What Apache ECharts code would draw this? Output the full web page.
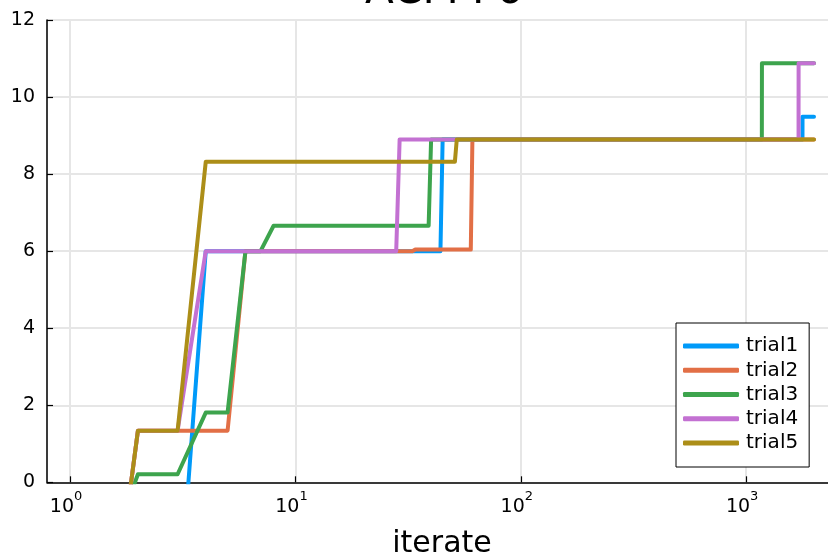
<!DOCTYPE html>
<html>
<head>
<meta charset="utf-8">
<script src="https://cdn.jsdelivr.net/npm/echarts@6/dist/echarts.min.js"></script>
<style>
html,body{margin:0;padding:0;background:#fff;overflow:hidden;}
#chart{width:828px;height:559px;}
</style>
</head>
<body>
<div id="chart"></div>
<script>
// ---- data ----
var titleText = 'ACM F6';
var xAxisName = 'iterate';
var seriesNames = ['trial1', 'trial2', 'trial3', 'trial4', 'trial5'];
var seriesColors = ['#009AF9', '#E26F46', '#3DA44D', '#C371D2', '#AC8E18'];

var trial1Iter = [1, 2, 3, 4, 44, 45, 1778, 1779, 2000];
var trial1Val  = [-10, -6, -3.74, 6, 6, 8.9, 8.9, 9.49, 9.49];

var trial2Iter = [1, 2, 5, 6, 33, 34, 60, 61, 2000];
var trial2Val  = [-12, 1.34, 1.34, 6, 6, 6.04, 6.04, 8.9, 8.9];

var trial3Iter = [1, 2, 3, 4, 5, 6, 7, 8, 39, 40, 1174, 1175, 2000];
var trial3Val  = [-4.6, 0.21, 0.21, 1.81, 1.81, 6, 6, 6.66, 6.66, 8.9, 8.9, 10.88, 10.88];

var trial4Iter = [1, 2, 3, 4, 28, 29, 1708, 1709, 2000];
var trial4Val  = [-12, 1.34, 1.34, 6, 6, 8.9, 8.9, 10.88, 10.88];

var trial5Iter = [1, 2, 3, 4, 51, 52, 2000];
var trial5Val  = [-12, 1.34, 1.34, 8.32, 8.32, 8.9, 8.9];

var yTicks = [0, 2, 4, 6, 8, 10, 12];

var iters = [trial1Iter, trial2Iter, trial3Iter, trial4Iter, trial5Iter];
var vals = [trial1Val, trial2Val, trial3Val, trial4Val, trial5Val];

function pairs(xs, ys) {
  var out = [];
  for (var i = 0; i < xs.length; i++) out.push([xs[i], ys[i]]);
  return out;
}

var FONT = 'DejaVu Sans';
var chart = echarts.init(document.getElementById('chart'), null, {renderer: 'canvas'});

var series = seriesNames.map(function (name, i) {
  return {
    name: name,
    type: 'line',
    data: pairs(iters[i], vals[i]),
    showSymbol: false,
    symbol: 'none',
    clip: true,
    animation: false,
    color: seriesColors[i],
    lineStyle: {width: 4, color: seriesColors[i], cap: 'round', join: 'round'}
  };
});

chart.setOption({
  animation: false,
  backgroundColor: '#ffffff',
  title: {
    text: titleText,
    left: 439,
    textAlign: 'center',
    top: -34,
    textStyle: {fontFamily: FONT, fontSize: 42, fontWeight: 'normal', color: '#000'}
  },
  grid: {left: 47, right: -9, top: 20, bottom: 76.7, containLabel: false, outerBoundsMode: 'none'},
  legend: {
    show: true,
    left: 676,
    top: 323,
    orient: 'vertical',
    align: 'left',
    backgroundColor: '#fff',
    borderColor: '#000',
    borderWidth: 1,
    borderRadius: 0,
    padding: [11, 11, 12, 7],
    itemGap: 0,
    itemWidth: 56,
    itemHeight: 5,
    icon: 'roundRect',
    textStyle: {fontFamily: FONT, fontSize: 20, color: '#000', lineHeight: 24.2, padding: [0, 0, 0, 2]},
    data: seriesNames
  },
  xAxis: {
    type: 'log',
    logBase: 10,
    min: 0.79,
    max: 2530,
    name: xAxisName,
    nameLocation: 'middle',
    nameGap: 47,
    nameTextStyle: {fontFamily: FONT, fontSize: 30, color: '#000'},
    axisLine: {show: true, onZero: false, lineStyle: {color: '#000', width: 1.5}},
    axisTick: {show: true, inside: true, length: 6, lineStyle: {color: '#000', width: 1.2}},
    splitLine: {show: true, lineStyle: {color: '#e6e6e6', width: 2}},
    minorTick: {show: false},
    axisLabel: {
      showMinLabel: false,
      showMaxLabel: false,
      margin: 8,
      formatter: function (v) {
        var e = Math.round(Math.log(v) / Math.LN10);
        return '{b|10}{s|' + e + '}';
      },
      rich: {
        b: {fontFamily: FONT, fontSize: 19, color: '#000', padding: [7, 0, 0, 0], verticalAlign: 'bottom'},
        s: {fontFamily: FONT, fontSize: 13, color: '#000', verticalAlign: 'top', padding: [0, 8, 0, 0]}
      }
    }
  },
  yAxis: {
    type: 'value',
    min: 0,
    max: 12,
    interval: 2,
    axisLine: {show: true, lineStyle: {color: '#000', width: 1.5}},
    axisTick: {show: true, inside: true, length: 6, lineStyle: {color: '#000', width: 1.2}},
    splitLine: {show: true, lineStyle: {color: '#e6e6e6', width: 2}},
    axisLabel: {fontFamily: FONT, fontSize: 19, color: '#000', margin: 12}
  },
  series: series
});
</script>
</body>
</html>
